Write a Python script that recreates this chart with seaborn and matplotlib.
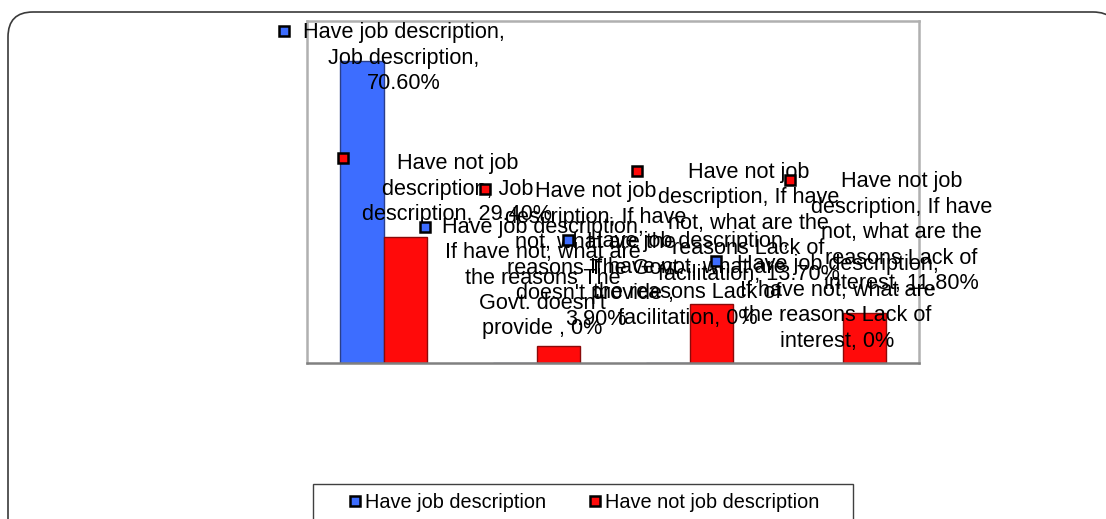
import matplotlib
matplotlib.use('Agg')
import matplotlib.pyplot as plt
import seaborn as sns
import pandas as pd
from matplotlib.lines import Line2D
from matplotlib.patches import PathPatch, Rectangle
from matplotlib.path import Path
from matplotlib.transforms import IdentityTransform, offset_copy
from matplotlib.textpath import TextToPath
from matplotlib.font_manager import FontProperties

categories = ["Job description",
              "If have not, what are the reasons The Govt. doesn't provide ",
              "If have not, what are the reasons Lack of facilitation",
              "If have not, what are the reasons Lack of interest"]
series = ["Have job description", "Have not job description"]
have_job = [70.6, 0, 0, 0]
have_not_job = [29.4, 3.9, 13.7, 11.8]

colors = ["#3d6dff", "#ff0a0a"]
edge_colors = ["#2a3f8a", "#8a0a0a"]

# data label layout, pixels from top of each bar: text centre and legend key
text_off = [[(42, 3), (28, 85), (20, 83), (17, 60)],
            [(52, 48), (37, 91), (37, 81), (37, 80)]]
key_off = [[(-78, 30), (-90, 136), (-100, 123), (-105, 102)],
           [(-62, 79), (-73, 157), (-74, 133), (-74, 133)]]

sns.set_style('white')
plt.rcParams['font.family'] = ['Liberation Sans', 'DejaVu Sans']
plt.rcParams['text.color'] = 'black'

LABEL_SIZE = 15.6
ttp = TextToPath()
fp = FontProperties(family='Liberation Sans', size=100)


def text_w(s):
    return ttp.get_text_width_height_descent(s, fp, ismath=False)[0]


def wrap(s, limit=937):
    # excel style wrapping of data labels by text width
    lines, cur = [], ''
    for w in s.split():
        t = cur + ' ' + w if cur else w
        if cur and text_w(t) > limit:
            lines.append(cur)
            cur = w
        else:
            cur = t
    lines.append(cur)
    return '\n'.join(lines)


def fmt(v):
    return f"{v:.2f}%" if v else "0%"


df = pd.DataFrame({
    'category': categories * 2,
    'series': [series[0]] * len(categories) + [series[1]] * len(categories),
    'value': have_job + have_not_job,
})
values = [have_job, have_not_job]

fig = plt.figure(figsize=(11.06, 5.19), dpi=100)
ax = fig.add_axes([307 / 1106, 156 / 519, 612 / 1106, 342 / 519])
sns.barplot(data=df, x='category', y='value', hue='series', hue_order=series,
            palette=colors, width=0.575, saturation=1, errorbar=None,
            linewidth=1, legend=False, ax=ax)
ax.set_ylim(0, 80)
ax.set_xlim(-0.5, len(categories) - 0.5)
ax.set_xticks([])
ax.set_yticks([])
ax.set_xlabel('')
ax.set_ylabel('')
for side, sp in ax.spines.items():
    sp.set_visible(True)
    sp.set_color('#b0b0b0')
    sp.set_linewidth(1.8)
ax.spines['bottom'].set_color('#808080')

for i, cont in enumerate(ax.containers):
    for j, bar in enumerate(cont):
        bar.set_edgecolor(edge_colors[i])
        x = bar.get_x() + bar.get_width() / 2
        y = bar.get_height()
        label = wrap(f"{series[i]}, {categories[j]}, {fmt(values[i][j])}")
        ax.annotate(label, (x, y), xytext=text_off[i][j], textcoords='offset pixels',
                    ha='center', va='center', fontsize=LABEL_SIZE, linespacing=1.28,
                    color='black', annotation_clip=False, zorder=6)
        tr = offset_copy(ax.transData, fig=fig, x=key_off[i][j][0],
                         y=key_off[i][j][1], units='dots')
        ax.plot([x], [y], ls='none', marker='s', ms=7, mfc=colors[i], mec='black',
                mew=1.8, transform=tr, clip_on=False, zorder=7)

handles = [Line2D([], [], ls='none', marker='s', ms=7, mfc=c, mec='black', mew=1.8)
           for c in colors]
fig.legend(handles, series, loc='center', bbox_to_anchor=(584 / 1106, 1 - 502 / 519),
           ncol=2, frameon=False, fontsize=14.3, handlelength=0.7, handletextpad=0.15,
           columnspacing=2.1, borderpad=0)
fig.add_artist(Rectangle((313, -10), 540, 45, transform=IdentityTransform(),
                         fill=False, ec='#404040', lw=1))

# outer chart frame (open path, it runs off the right and bottom edges)
L, R, T, r = 8, 1118, 507, 25
frame = Path([(L, -10), (L, T - r), (L, T), (L + r, T), (R - r, T), (R, T), (R, T - r), (R, -10)],
             [Path.MOVETO, Path.LINETO, Path.CURVE3, Path.CURVE3, Path.LINETO,
              Path.CURVE3, Path.CURVE3, Path.LINETO])
fig.add_artist(PathPatch(frame, transform=IdentityTransform(), fill=False,
                         ec='#3a3a3a', lw=1.2))

fig.savefig('out.png', dpi=100)
